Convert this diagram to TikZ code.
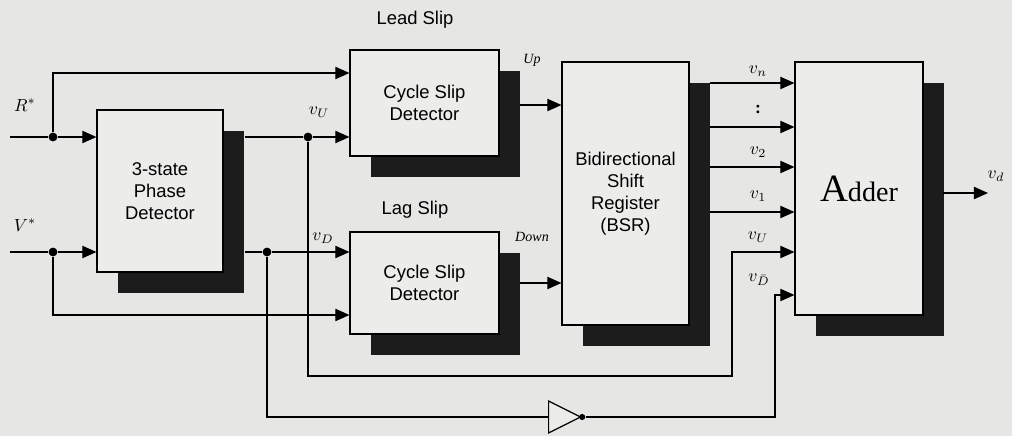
\documentclass[tikz,border=0pt]{standalone}
\usepackage{fontspec}
\setmainfont{Liberation Serif}
\setsansfont{Liberation Sans}
\usepackage{tikz}
\usetikzlibrary{arrows.meta}
\usetikzlibrary{shapes.geometric,positioning,shadows}
\definecolor{bgc}{RGB}{230,230,228}
\definecolor{boxc}{RGB}{236,236,234}
\definecolor{shadc}{RGB}{28,28,28}

\begin{document}
\begin{tikzpicture}[x=0.02cm, y=-0.02cm, >={Triangle[length=8pt,width=7pt]}, line width=0.7pt,
    blk/.style={draw, fill=boxc, align=center, inner sep=0pt,
        font=\sffamily\fontsize{10.5}{12.5}\selectfont,
        drop shadow={shadow xshift=0.42cm, shadow yshift=-0.42cm, fill=shadc, opacity=1}},
    ttl/.style={font=\sffamily\fontsize{10.5}{12.5}\selectfont},
    sig/.style={font=\normalsize, inner sep=1pt},
    jn/.style={circle, fill, inner sep=0pt, minimum size=5pt},
    inv/.style={draw, fill=boxc, isosceles triangle, isosceles triangle stretches,
        minimum width=0.64cm, minimum height=0.64cm, inner sep=0pt}]
        \fill[bgc] (0,0) rectangle (1012,436);
        \useasboundingbox (0,0) rectangle (1012,436);

        \path 
        (10,137) coordinate (rin)
        (10,252) coordinate (vin)
        (245,137) coordinate (pdu)
        (245,252) coordinate (pdd)
        (53,73) coordinate (rtop)
        (53,315) coordinate (vbot)
        (308,376) coordinate (ubot)
        (732,252) coordinate (uturn)
        (775,295) coordinate (dturn)
        (520,105) coordinate (upo)
        (520,283) coordinate (dno)
        (943,193) coordinate (addo)
        (988,193) coordinate (vdo)
        ;

        % blocks
        \node[blk, minimum width=2.52cm, minimum height=3.24cm] (pd) at (160,191) {3-state\\Phase\\Detector};
        \node[blk, minimum width=2.98cm, minimum height=2.12cm] (lead) at (424.5,103) {Cycle Slip\\Detector};
        \node[blk, minimum width=2.98cm, minimum height=2.04cm] (lag) at (424.5,283) {Cycle Slip\\Detector};
        \node[blk, minimum width=2.54cm, minimum height=5.26cm] (bsr) at (625.5,193.5) {Bidirectional\\Shift\\Register\\(BSR)};
        \node[blk, minimum width=2.56cm, minimum height=5.06cm, font=\rmfamily] (add) at (859,188.5)
            {{\fontsize{22}{24}\selectfont A}{\fontsize{16}{18}\selectfont dder}};
        \node[ttl] (leadt) at (415,20) {Lead Slip};
        \node[ttl] (lagt) at (415,210) {Lag Slip};

        \node[jn] (rj) at (53,137) {};
        \node[jn] (vj) at (53,252) {};
        \node[jn] (uj) at (308,137) {};
        \node[jn] (dj) at (267,252) {};
        \node[inv, anchor=west] (not) at (548,417) {};
        \node[circle, fill, inner sep=0pt, minimum size=3.5pt] (bub) at (not.apex) {};

        % inputs
        \draw (rin) -- (rj);
        \draw[->] (rj) -- (rj -| pd.west);
        \draw[->] (rj) |- (rtop -| lead.west);
        \draw (vin) -- (vj);
        \draw[->] (vj) -- (vj -| pd.west);
        \draw[->] (vj) |- (vbot -| lag.west);

        % phase detector outputs
        \draw (pdu) -- (uj);
        \draw[->] (uj) -- (uj -| lead.west);
        \draw (pdd) -- (dj);
        \draw[->] (dj) -- (dj -| lag.west);
        \draw[->] (uj) -- (ubot) -| (uturn) -- (uturn -| add.west);
        \draw (dj) |- (not);
        \draw[->] (bub) -| (dturn) -- (dturn -| add.west);

        \draw[->] (upo) -- (upo -| bsr.west);
        \draw[->] (dno) -- (dno -| bsr.west);
        \foreach \y [count=\i] in {83,127,167,212}{
            \coordinate (bo\i) at (710,\y);
            \draw[->] (bo\i) -- (bo\i -| add.west);
        }
        \draw[->] (addo) -- (vdo);

        % labels
        \node[sig] (lr) at (25,105) {$R^{*}$};
        \node[sig] (lv) at (25,225) {$V^{*}$};
        \node[sig] (lu) at (319,112) {$v_{U}$};
        \node[sig] (ld) at (323,238) {$v_{D}$};
        \node[font=\footnotesize\itshape] (lup) at (532,60) {Up};
        \node[font=\footnotesize\itshape] (ldn) at (532,237) {Down};
        \node[sig] (ln) at (758,71) {$v_{n}$};
        \node[font=\bfseries] (ldots) at (758,110) {:};
        \node[sig] (l2) at (758,152) {$v_{2}$};
        \node[sig] (l1) at (758,196) {$v_{1}$};
        \node[sig] (lu2) at (758,237) {$v_{U}$};
        \node[sig, anchor=east] (ld2) at (772,280) {$v_{\bar{D}}$};
        \node[sig] (lvd) at (996,176) {$v_{d}$};
\end{tikzpicture}
\end{document}
